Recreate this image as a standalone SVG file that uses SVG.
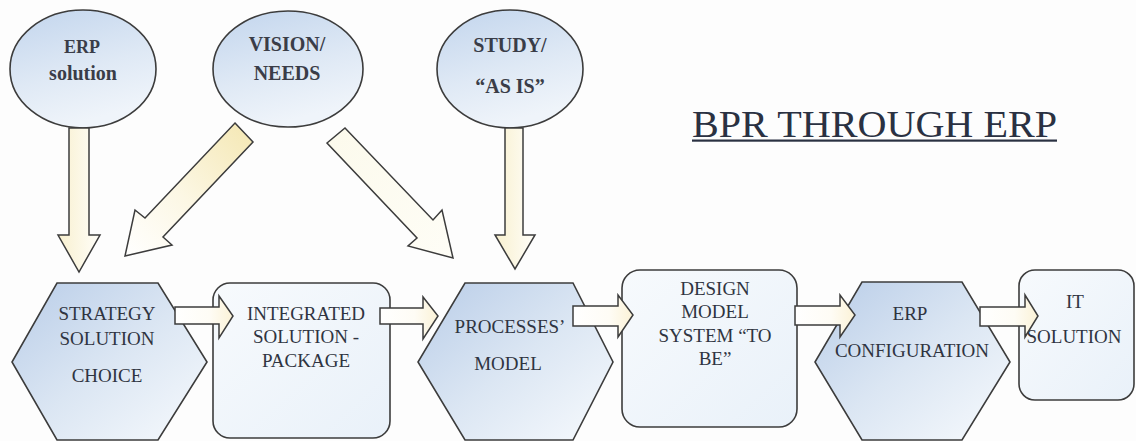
<svg xmlns="http://www.w3.org/2000/svg" width="1136" height="441" viewBox="0 0 1136 441">
  <defs>
    <linearGradient id="ellFill" x1="0" y1="0" x2="0.35" y2="1">
      <stop offset="0" stop-color="#c2d5ed"/>
      <stop offset="0.6" stop-color="#dfe9f5"/>
      <stop offset="1" stop-color="#eff4fa"/>
    </linearGradient>
    <linearGradient id="hexFill" x1="0" y1="0" x2="1" y2="1">
      <stop offset="0" stop-color="#b9cde8"/>
      <stop offset="0.5" stop-color="#dbe6f3"/>
      <stop offset="1" stop-color="#f7fafd"/>
    </linearGradient>
    <linearGradient id="boxFill" x1="0" y1="0" x2="1" y2="1">
      <stop offset="0" stop-color="#f7fafd"/>
      <stop offset="1" stop-color="#e9f1f9"/>
    </linearGradient>
    <linearGradient id="arrowH" x1="0" y1="0" x2="1" y2="0">
      <stop offset="0" stop-color="#ffffff"/>
      <stop offset="0.6" stop-color="#fefcf5"/>
      <stop offset="1" stop-color="#fbf2d6"/>
    </linearGradient>
    <linearGradient id="arrowV" x1="0" y1="0" x2="1" y2="0">
      <stop offset="0" stop-color="#f8f0cf"/>
      <stop offset="1" stop-color="#fffef9"/>
    </linearGradient>
    <linearGradient id="arrowDiagL" x1="1" y1="0" x2="0" y2="1">
      <stop offset="0" stop-color="#f4e7b2"/>
      <stop offset="0.55" stop-color="#fcf7e4"/>
      <stop offset="1" stop-color="#ffffff"/>
    </linearGradient>
    <linearGradient id="arrowDiagR" x1="0" y1="0" x2="1" y2="1">
      <stop offset="0" stop-color="#fcfaec"/>
      <stop offset="1" stop-color="#fefdf6"/>
    </linearGradient>
  </defs>

  <rect width="1136" height="441" fill="#fdfdfd"/>

  <!-- title -->
  <text x="692" y="137" font-size="37" font-family="Liberation Serif" fill="#2a3142" textLength="365" lengthAdjust="spacingAndGlyphs">BPR THROUGH ERP</text>
  <rect x="692" y="139.5" width="365" height="2.2" fill="#2a3142"/>

  <!-- input ovals -->
  <g id="erp-solution">
    <ellipse cx="83" cy="69" rx="73" ry="59" fill="url(#ellFill)" stroke="#3c3c3c" stroke-width="1.6"/>
    <text x="82" y="53" font-size="18" font-family="Liberation Serif" font-weight="bold" fill="#3a3d48" text-anchor="middle">ERP</text>
    <text x="83" y="80" font-size="20" font-family="Liberation Serif" font-weight="bold" fill="#3a3d48" text-anchor="middle">solution</text>
  </g>
  <g id="vision-needs">
    <ellipse cx="288" cy="69" rx="75" ry="58" fill="url(#ellFill)" stroke="#3c3c3c" stroke-width="1.6"/>
    <text x="287" y="51" font-size="20" font-family="Liberation Serif" font-weight="bold" fill="#3a3d48" text-anchor="middle">VISION/</text>
    <text x="287" y="80" font-size="20" font-family="Liberation Serif" font-weight="bold" fill="#3a3d48" text-anchor="middle">NEEDS</text>
  </g>
  <g id="study-as-is">
    <ellipse cx="510" cy="69" rx="73" ry="59" fill="url(#ellFill)" stroke="#3c3c3c" stroke-width="1.6"/>
    <text x="510" y="52" font-size="20" font-family="Liberation Serif" font-weight="bold" fill="#3a3d48" text-anchor="middle">STUDY/</text>
    <text x="510" y="93" font-size="20" font-family="Liberation Serif" font-weight="bold" fill="#3a3d48" text-anchor="middle">&#8220;AS IS&#8221;</text>
  </g>

  <!-- process chain: hexagons and rounded boxes -->
  <g id="strategy-solution-choice">
    <polygon points="57,283 158,283 207,362 158,440 57,440 12,362" fill="url(#hexFill)" stroke="#3c3c3c" stroke-width="1.6"/>
    <text x="107" y="320" font-size="19" font-family="Liberation Serif" fill="#2f3441" text-anchor="middle">STRATEGY</text>
    <text x="107" y="345" font-size="19" font-family="Liberation Serif" fill="#2f3441" text-anchor="middle">SOLUTION</text>
    <text x="107" y="382" font-size="19" font-family="Liberation Serif" fill="#2f3441" text-anchor="middle">CHOICE</text>
  </g>
  <g id="integrated-solution-package">
    <rect x="213" y="283" width="177" height="155" rx="17" fill="url(#boxFill)" stroke="#3c3c3c" stroke-width="1.6"/>
    <text x="306" y="320" font-size="19" font-family="Liberation Serif" fill="#2f3441" text-anchor="middle">INTEGRATED</text>
    <text x="306" y="343" font-size="19" font-family="Liberation Serif" fill="#2f3441" text-anchor="middle">SOLUTION -</text>
    <text x="306" y="367" font-size="19" font-family="Liberation Serif" fill="#2f3441" text-anchor="middle">PACKAGE</text>
  </g>
  <g id="processes-model">
    <polygon points="465,283 573,283 613,362 573,440 465,440 418,362" fill="url(#hexFill)" stroke="#3c3c3c" stroke-width="1.6"/>
    <text x="510" y="333" font-size="19" font-family="Liberation Serif" fill="#2f3441" text-anchor="middle">PROCESSES&#8217;</text>
    <text x="508" y="370" font-size="19" font-family="Liberation Serif" fill="#2f3441" text-anchor="middle">MODEL</text>
  </g>
  <g id="design-model-system">
    <rect x="622" y="270" width="175" height="157" rx="18" fill="url(#boxFill)" stroke="#3c3c3c" stroke-width="1.6"/>
    <text x="715" y="295" font-size="19" font-family="Liberation Serif" fill="#2f3441" text-anchor="middle">DESIGN</text>
    <text x="715" y="318" font-size="19" font-family="Liberation Serif" fill="#2f3441" text-anchor="middle">MODEL</text>
    <text x="715" y="342" font-size="19" font-family="Liberation Serif" fill="#2f3441" text-anchor="middle">SYSTEM &#8220;TO</text>
    <text x="715" y="365" font-size="19" font-family="Liberation Serif" fill="#2f3441" text-anchor="middle">BE&#8221;</text>
  </g>
  <g id="erp-configuration">
    <polygon points="862,282 962,282 1010,362 962,440 862,440 815,362" fill="url(#hexFill)" stroke="#3c3c3c" stroke-width="1.6"/>
    <text x="910" y="320" font-size="19" font-family="Liberation Serif" fill="#2f3441" text-anchor="middle">ERP</text>
    <text x="912" y="357" font-size="19" font-family="Liberation Serif" fill="#2f3441" text-anchor="middle">CONFIGURATION</text>
  </g>
  <g id="it-solution">
    <rect x="1019" y="270" width="115" height="130" rx="16" fill="url(#boxFill)" stroke="#3c3c3c" stroke-width="1.6"/>
    <text x="1075" y="308" font-size="19" font-family="Liberation Serif" fill="#2f3441" text-anchor="middle">IT</text>
    <text x="1074" y="343" font-size="19" font-family="Liberation Serif" fill="#2f3441" text-anchor="middle">SOLUTION</text>
  </g>

  <!-- block arrows -->
  <g id="connectors" stroke="#3c3c3c" stroke-width="1.5" stroke-linejoin="miter">
    <polygon fill="url(#arrowV)" points="69,128 89,128 89,235 100,235 79,272 58,235 69,235"/>
    <polygon fill="url(#arrowDiagL)" points="235,123 253,142 163,237 172,245 125,256 135,210 145,218"/>
    <polygon fill="url(#arrowDiagR)" points="327,143 345,128 433,220 442,210 453,258 408,246 417,238"/>
    <polygon fill="url(#arrowV)" points="505,128 523,128 523,235 535,235 515,269 495,235 505,235"/>

    <polygon fill="url(#arrowH)" points="175,307 219,307 219,296 233,316 219,338 219,324 175,324"/>
    <polygon fill="url(#arrowH)" points="380,308 423,308 423,297 438,316 423,339 423,324 380,324"/>
    <polygon fill="url(#arrowH)" points="573,306 618,306 618,295 633,315 618,337 618,326 573,326"/>
    <polygon fill="url(#arrowH)" points="795,306 840,306 840,295 855,315 840,337 840,325 795,325"/>
    <polygon fill="url(#arrowH)" points="980,307 1025,307 1025,295 1038,316 1025,337 1025,326 980,326"/>
  </g>
</svg>
